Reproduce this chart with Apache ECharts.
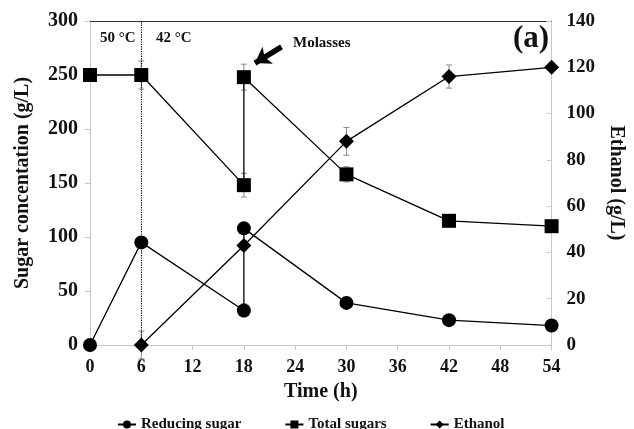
<!DOCTYPE html>
<html>
<head>
<meta charset="utf-8">
<script src="https://cdn.jsdelivr.net/npm/echarts@6/dist/echarts.min.js"></script>
<style>
  html, body { margin: 0; padding: 0; background: #fff; }
  #chart { width: 634px; height: 429px; }
</style>
</head>
<body>
<div id="chart"></div>
<script>
// time points (h) and measured values
const reducingTime = [0, 6, 18, 18, 30, 42, 54];
const reducingSugar = [0, 95, 32, 108, 39, 23, 18];
const reducingErr = [0, 3, 6, 3, 3, 2, 2];

const totalTime = [0, 6, 18, 18, 30, 42, 54];
const totalSugars = [250, 250, 148, 248, 158, 115, 110];
const totalErr = [0, 13, 11, 12, 7, 2, 2];

const ethanolTime = [6, 18, 30, 42, 54];
const ethanol = [0, 43, 88, 116, 120];
const ethanolErr = [6, 2, 6, 5, 0];

const xTicks = [0, 6, 12, 18, 24, 30, 36, 42, 48, 54];

const FONT = 'Liberation Serif';

const pts = (xs, ys) => xs.map((x, i) => [x, ys[i]]);
const errs = (xs, ys, es) => xs.map((x, i) => [x, ys[i] - es[i], ys[i] + es[i]]);

const errorBar = (params, api) => {
  const x = api.value(0);
  const lo = api.coord([x, api.value(1)]);
  const hi = api.coord([x, api.value(2)]);
  const w = 3;
  const style = { stroke: '#888', lineWidth: 1 };
  return {
    type: 'group',
    children: [
      { type: 'line', shape: { x1: lo[0], y1: lo[1], x2: hi[0], y2: hi[1] }, style },
      { type: 'line', shape: { x1: lo[0] - w, y1: lo[1], x2: lo[0] + w, y2: lo[1] }, style },
      { type: 'line', shape: { x1: hi[0] - w, y1: hi[1], x2: hi[0] + w, y2: hi[1] }, style }
    ]
  };
};

const chart = echarts.init(document.getElementById('chart'));

const tickLabel = { fontFamily: FONT, fontWeight: 'bold', fontSize: 20, color: '#111' };
const axisName = { fontFamily: FONT, fontWeight: 'bold', fontSize: 20, color: '#111' };
const annot = (size) => `bold ${size}px "Liberation Serif"`;

chart.setOption({
  animation: false,
  backgroundColor: '#fff',
  grid: { left: 90, right: 66, top: 21, bottom: 84 },
  legend: {
    top: 412,
    left: 112,
    itemGap: 43,
    itemWidth: 18,
    itemHeight: 10,
    textStyle: { fontFamily: FONT, fontWeight: 'bold', fontSize: 15, color: '#111' },
    data: ['Reducing sugar', 'Total sugars', 'Ethanol']
  },
  xAxis: [
    {
      type: 'value',
      min: 0, max: 54, interval: 6,
      name: 'Time (h)',
      nameLocation: 'middle',
      nameGap: 37,
      nameTextStyle: axisName,
      axisLine: { onZero: false, lineStyle: { color: '#c8c8c8' } },
      axisTick: { show: true, lineStyle: { color: '#c8c8c8' } },
      axisLabel: { ...tickLabel, fontSize: 18, margin: 13, formatter: v => xTicks.includes(v) ? String(v) : '' },
      splitLine: { show: false }
    },
    {
      type: 'value',
      position: 'top',
      min: 0, max: 54,
      axisLine: { show: true, onZero: false, lineStyle: { color: '#333', width: 1 } },
      axisTick: { show: false },
      axisLabel: { show: false },
      splitLine: { show: false }
    }
  ],
  yAxis: [
    {
      type: 'value',
      position: 'left',
      min: 0, max: 300, interval: 50,
      name: 'Sugar concentation (g/L)',
      nameLocation: 'middle',
      nameGap: 57,
      nameTextStyle: axisName,
      axisLine: { show: true, onZero: false, lineStyle: { color: '#c8c8c8' } },
      axisTick: { show: true, lineStyle: { color: '#c8c8c8' } },
      axisLabel: { ...tickLabel, margin: 12 },
      splitLine: { show: false }
    },
    {
      type: 'value',
      position: 'right',
      min: 0, max: 140, interval: 20,
      name: 'Ethanol (g/L)',
      nameLocation: 'middle',
      nameGap: 54,
      nameRotate: -90,
      nameTextStyle: axisName,
      axisLine: { show: true, onZero: false, lineStyle: { color: '#c8c8c8' } },
      axisTick: { show: true, inside: true, lineStyle: { color: '#c8c8c8' } },
      axisLabel: { ...tickLabel, fontSize: 19, margin: 15 },
      splitLine: { show: false }
    }
  ],
  graphic: [
    { type: 'text', left: 100, top: 31, style: { text: '50 °C', font: annot(15), fill: '#111' } },
    { type: 'text', left: 156, top: 31, style: { text: '42 °C', font: annot(15), fill: '#111' } },
    { type: 'text', left: 293, top: 36, style: { text: 'Molasses', font: annot(15), fill: '#111' } },
    { type: 'text', left: 513, top: 23, style: { text: '(a)', font: annot(31), fill: '#111' } }
  ],
  series: [
    {
      name: 'Error reducing', type: 'custom', xAxisIndex: 0, yAxisIndex: 0,
      renderItem: errorBar, data: errs(reducingTime, reducingSugar, reducingErr), silent: true, z: 1
    },
    {
      name: 'Error total', type: 'custom', xAxisIndex: 0, yAxisIndex: 0,
      renderItem: errorBar, data: errs(totalTime, totalSugars, totalErr), silent: true, z: 1
    },
    {
      name: 'Error ethanol', type: 'custom', xAxisIndex: 0, yAxisIndex: 1,
      renderItem: errorBar, data: errs(ethanolTime, ethanol, ethanolErr), silent: true, z: 1
    },
    {
      name: 'Reducing sugar', type: 'line', xAxisIndex: 0, yAxisIndex: 0,
      data: pts(reducingTime, reducingSugar),
      symbol: 'circle', symbolSize: 14,
      itemStyle: { color: '#000' },
      lineStyle: { color: '#000', width: 1.3 },
      z: 3,
      markLine: {
        silent: true,
        symbol: 'none',
        label: { show: false },
        lineStyle: { type: 'dotted', color: '#000', width: 1.2 },
        data: [{ xAxis: 6 }]
      }
    },
    {
      name: 'Total sugars', type: 'line', xAxisIndex: 0, yAxisIndex: 0,
      data: pts(totalTime, totalSugars),
      symbol: 'rect', symbolSize: 14,
      itemStyle: { color: '#000' },
      lineStyle: { color: '#000', width: 1.3 },
      z: 3,
      markLine: {
        silent: true,
        symbol: ['none', 'arrow'],
        symbolSize: 15,
        label: { show: false },
        lineStyle: { type: 'solid', color: '#000', width: 5.5 },
        data: [[{ coord: [22.4, 276] }, { coord: [19.3, 261] }]]
      }
    },
    {
      name: 'Ethanol', type: 'line', xAxisIndex: 0, yAxisIndex: 1,
      data: pts(ethanolTime, ethanol),
      symbol: 'diamond', symbolSize: 15,
      itemStyle: { color: '#000' },
      lineStyle: { color: '#000', width: 1.3 },
      z: 3
    }
  ]
});
</script>
</body>
</html>
